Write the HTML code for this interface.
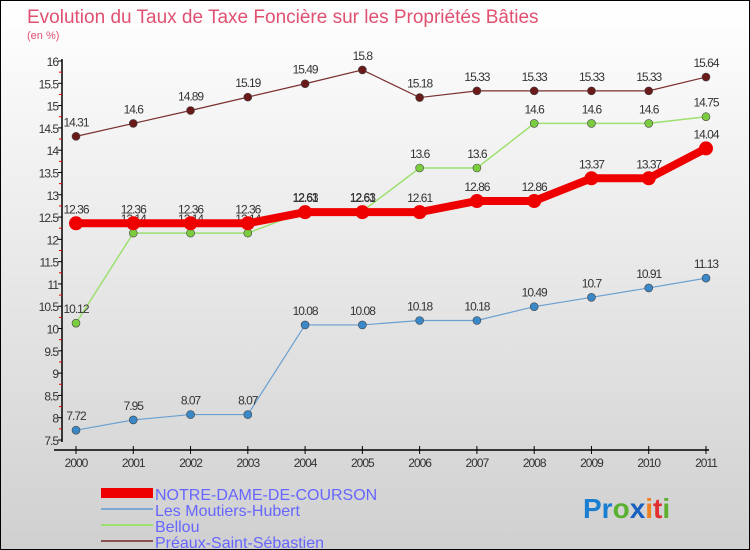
<!DOCTYPE html>
<html><head><meta charset="utf-8"><style>
body{margin:0}
#c{position:relative;width:748px;height:548px;border:1px solid #000;background:linear-gradient(#fff,#d0d0d0);font-family:"Liberation Sans",sans-serif;overflow:hidden}
svg text{font-family:"Liberation Sans",sans-serif}
</style></head><body>
<div id="c">
<svg id="s" width="748" height="548">
<text x="26" y="22" font-size="19" fill="#e05070">Evolution du Taux de Taxe Foncière sur les Propriétés Bâties</text>
<text x="26" y="38" font-size="11" fill="#e05070">(en %)</text>
<g id="plot"></g>
<g>
<rect x="100" y="487" width="52" height="10" fill="#e00"/>
<text x="154" y="499" font-size="16" fill="#6666ff">NOTRE-DAME-DE-COURSON</text>
<rect x="100" y="507" width="52" height="2" fill="#7aa8d0"/>
<text x="154" y="515" font-size="16" fill="#6666ff">Les Moutiers-Hubert</text>
<rect x="100" y="523" width="52" height="2" fill="#9de070"/>
<text x="154" y="531" font-size="16" fill="#6666ff">Bellou</text>
<rect x="100" y="539" width="52" height="2" fill="#8b5050"/>
<text x="154" y="547" font-size="16" fill="#6666ff">Préaux-Saint-Sébastien</text>
</g>
<text x="582" y="517" font-size="28" font-weight="bold"><tspan fill="#1a7fd0">Pr</tspan><tspan fill="#5ab030">o</tspan><tspan fill="#1a60c0">x</tspan><tspan fill="#f08020">i</tspan><tspan fill="#e03030">t</tspan><tspan fill="#60b030">i</tspan></text>
</svg>
</div>
<script>
const years=["2000","2001","2002","2003","2004","2005","2006","2007","2008","2009","2010","2011"];
const notreDame=[12.36,12.36,12.36,12.36,12.61,12.61,12.61,12.86,12.86,13.37,13.37,14.04];
const moutiers=[7.72,7.95,8.07,8.07,10.08,10.08,10.18,10.18,10.49,10.7,10.91,11.13];
const bellou=[10.12,12.14,12.14,12.14,12.63,12.63,13.6,13.6,14.6,14.6,14.6,14.75];
const preaux=[14.31,14.6,14.89,15.19,15.49,15.8,15.18,15.33,15.33,15.33,15.33,15.64];
const yTicks=[7.5,8,8.5,9,9.5,10,10.5,11,11.5,12,12.5,13,13.5,14,14.5,15,15.5,16];
const NS="http://www.w3.org/2000/svg";
const g=document.getElementById('plot');
const X0=75,X1=705,Y0=439,Y1=60,YMIN=7.5,YMAX=16;
function xs(i){return X0+(X1-X0)*i/(years.length-1);}
function ys(v){return Y0-(v-YMIN)*(Y0-Y1)/(YMAX-YMIN);}
function mk(t,a){const e=document.createElementNS(NS,t);for(const k in a)e.setAttribute(k,a[k]);g.appendChild(e);return e;}
function fmt(v){return String(v);}
let e=mk('line',{x1:61,y1:Y1-2,x2:61,y2:Y0+2,stroke:'#000','stroke-width':1.5});


yTicks.forEach((t,i)=>{
 const y=ys(t);
 const l=mk('line',{x1:57,y1:y,x2:61,y2:y,stroke:'#000'});
 
 
 if(i<yTicks.length-1){const m=mk('line',{x1:58,y1:(y+ys(yTicks[i+1]))/2,x2:61,y2:(y+ys(yTicks[i+1]))/2,stroke:'#e00'});
 
 }
 const tx=mk('text',{x:57,y:y+5,'font-size':12,'text-anchor':'end',fill:'#333','letter-spacing':'-1'});
 tx.textContent=fmt(t);
 
 
});
e=mk('line',{x1:53,y1:449,x2:708,y2:449,stroke:'#000','stroke-width':1.5});


years.forEach((yr,i)=>{
 const l=mk('line',{x1:xs(i),y1:445,x2:xs(i),y2:453,stroke:'#000'});
 
 
 const t=mk('text',{x:xs(i),y:466,'font-size':12,'text-anchor':'middle',fill:'#333','letter-spacing':'-1'});
 t.textContent=yr;
 
 
});
function series(name,vals,color,w,r,dot){
 const p=mk('polyline',{points:vals.map((v,i)=>xs(i)+','+ys(v)).join(' '),fill:'none',stroke:color,'stroke-width':w});
 
 
 vals.forEach((v,i)=>{
  const c=mk('circle',{cx:xs(i),cy:ys(v),r:r,fill:dot,stroke:'#444','stroke-width':r>5?0:0.6});
  
  
  const t=mk('text',{x:xs(i),y:ys(v)-10,'font-size':12,'text-anchor':'middle',fill:'#333','letter-spacing':'-1'});
  t.textContent=fmt(v);
  
  
 });
}
series('preaux',preaux,'#7a3030',1.2,4,'#6b1a1a');
series('moutiers',moutiers,'#6aa0d0',1.2,4,'#3a88c8');
series('bellou',bellou,'#9de070',1.5,4,'#7ccc40');
series('notre-dame',notreDame,'#e00',8,7,'#e00');
</script>
</body></html>
